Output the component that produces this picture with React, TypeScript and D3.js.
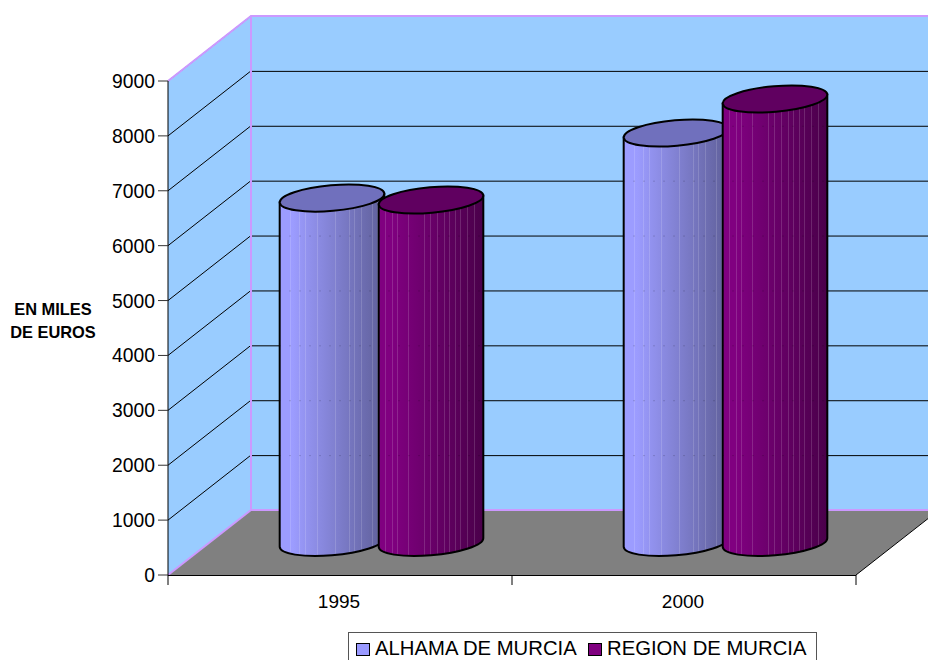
import React from 'react';
import * as d3 from 'd3';

const categories = ['1995', '2000'];
const seriesNames = ['ALHAMA DE MURCIA', 'REGION DE MURCIA'];
const alhamaValues = [6275, 7460];
const regionValues = [6240, 8080];
const yTicks = [0, 1000, 2000, 3000, 4000, 5000, 6000, 7000, 8000, 9000];
const alhamaStreaks = [0.1, 0.19, 0.24, 0.36, 0.53, 0.66, 0.71, 0.78, 0.88, 0.93];
const regionStreaks = [0.06, 0.13, 0.18, 0.28, 0.43, 0.49, 0.56, 0.62, 0.67, 0.73, 0.78, 0.84, 0.91];

const width = 928;
const height = 660;
const font = '"Liberation Sans", Arial, sans-serif';

// the 3d box: front plane plus an offset to the back wall
const front = { left: 168, right: 856, bottom: 575, top: 81 };
const depth = { x: 83, y: -65 };

const y = d3.scaleLinear().domain([0, 9000]).range([front.bottom, front.top]);
const x0 = d3.scaleBand().domain(categories).range([front.left, front.right]);
const x1 = d3.scaleBand().domain(seriesNames).range([0, 198]);

const colors = [
  { light: '#9c9cff', dark: '#5f5f99', top: '#7070bd', swatch: '#9999ff', streaks: alhamaStreaks },
  { light: '#800080', dark: '#4a004a', top: '#600060', swatch: '#800080', streaks: regionStreaks },
];

const rx = 52.5;
const ry = 12.8;
const tilt = -5;

// left/right tangent points of the tilted ellipse
const th = (tilt * Math.PI) / 180;
const tt = Math.atan((-ry * Math.sin(th)) / (rx * Math.cos(th)));
const tanX = rx * Math.cos(tt) * Math.cos(th) - ry * Math.sin(tt) * Math.sin(th);
const tanY = rx * Math.cos(tt) * Math.sin(th) + ry * Math.sin(tt) * Math.cos(th);

const Cylinder = ({ cat, si, value }: { cat: string; si: number; value: number }) => {
  const c = colors[si];
  const name = seriesNames[si];
  const cx =
    (x0(cat) as number) + x0.bandwidth() / 2 + depth.x / 2 - 99 +
    (x1(name) as number) + x1.bandwidth() / 2;
  const base = y(0) + depth.y / 2;
  const top = y(value) + depth.y / 2;
  const body =
    `M${cx - tanX},${top - tanY} L${cx - tanX},${base - tanY} ` +
    `A${rx},${ry} ${tilt} 0 0 ${cx + tanX},${base + tanY} ` +
    `L${cx + tanX},${top + tanY} Z`;
  const clipId = `clip-${cat}-${si}`;
  return (
    <g>
      <clipPath id={clipId}>
        <path d={body} />
      </clipPath>
      <path d={body} fill={`url(#grad-${si})`} />
      <g clipPath={`url(#${clipId})`}>
        {c.streaks.map((s) => (
          <line
            key={s}
            x1={Math.round(cx - rx + s * 2 * rx) + 0.5}
            x2={Math.round(cx - rx + s * 2 * rx) + 0.5}
            y1={top - 20}
            y2={base + 20}
            stroke="#fff"
            strokeOpacity={0.15}
            strokeWidth={1}
          />
        ))}
        {/* the wall gridlines show through as faint dots */}
        {yTicks.slice(1, -1).map((t) => (
          <line
            key={t}
            x1={cx - rx}
            x2={cx + rx}
            y1={y(t) + depth.y + 0.5}
            y2={y(t) + depth.y + 0.5}
            stroke="#000"
            strokeOpacity={0.3}
            strokeDasharray="1 9"
          />
        ))}
      </g>
      <path d={body} fill="none" stroke="#000" strokeWidth={2} />
      <ellipse
        cx={cx}
        cy={top}
        rx={rx}
        ry={ry}
        transform={`rotate(${tilt} ${cx} ${top})`}
        fill={c.top}
        stroke="#000"
        strokeWidth={2}
      />
    </g>
  );
};

export default function App() {
  const backL = front.left + depth.x;
  const backBottom = front.bottom + depth.y;
  const backTop = front.top + depth.y;
  const backR = front.right + depth.x;
  return (
    <svg
      width={width}
      height={height}
      style={{ position: 'absolute', left: 0, top: 0, display: 'block' }}
      fontFamily={font}
    >
      <defs>
        {colors.map((c, i) => (
          <linearGradient key={i} id={`grad-${i}`} x1="0" x2="1" y1="0" y2="0">
            <stop offset="0" stopColor={c.light} />
            <stop offset="0.12" stopColor={c.light} />
            <stop offset="1" stopColor={c.dark} />
          </linearGradient>
        ))}
      </defs>
      <rect width={width} height={height} fill="#fff" />

      {/* walls and floor */}
      <polygon
        points={`${front.left},${front.top} ${backL},${backTop} ${backL},${backBottom} ${front.left},${front.bottom}`}
        fill="#99ccff"
      />
      <rect x={backL} y={backTop} width={backR - backL} height={backBottom - backTop} fill="#99ccff" />
      <polygon
        points={`${front.left},${front.bottom} ${backL},${backBottom} ${backR},${backBottom} ${front.right},${front.bottom}`}
        fill="#808080"
      />

      {/* gridlines on both walls */}
      {yTicks.slice(1).map((t) => (
        <g key={t} stroke="#000" strokeWidth={1} fill="none">
          <line x1={front.left} y1={y(t)} x2={backL} y2={y(t) + depth.y} />
          {t < 9000 && <line x1={backL} y1={y(t) + depth.y + 0.5} x2={backR} y2={y(t) + depth.y + 0.5} />}
        </g>
      ))}

      {/* wall edges */}
      <g stroke="#cc99ff" strokeWidth={2} fill="none">
        <path d={`M${front.left},${front.top} L${backL},${backTop} L${backR},${backTop}`} />
        <line x1={backL} y1={backTop} x2={backL} y2={backBottom} />
        <line x1={backL} y1={backBottom} x2={backR} y2={backBottom} />
        <line x1={front.left} y1={front.bottom} x2={backL} y2={backBottom} />
      </g>
      <line x1={front.right} y1={front.bottom} x2={backR} y2={backBottom} stroke="#000" strokeWidth={1} />

      {/* cylinders */}
      {categories.map((cat, i) => (
        <g key={cat}>
          <Cylinder cat={cat} si={0} value={alhamaValues[i]} />
          <Cylinder cat={cat} si={1} value={regionValues[i]} />
        </g>
      ))}

      {/* y axis */}
      <line x1={front.left} x2={front.left} y1={front.top} y2={front.bottom} stroke="#000" />
      {yTicks.map((t) => (
        <g key={t}>
          <line x1={front.left - 10} x2={front.left} y1={y(t)} y2={y(t)} stroke="#333" strokeWidth={1} />
          <text x={155} y={y(t) + 7} textAnchor="end" fontSize={19.3} fill="#000">
            {t}
          </text>
        </g>
      ))}

      {/* x axis */}
      <line x1={front.left} x2={front.right} y1={front.bottom + 0.5} y2={front.bottom + 0.5} stroke="#000" />
      {[front.left, ...categories.map((c) => (x0(c) as number) + x0.bandwidth())].map((tx) => (
        <line key={tx} x1={tx} x2={tx} y1={front.bottom} y2={front.bottom + 10} stroke="#000" />
      ))}
      {categories.map((c) => (
        <text
          key={c}
          x={(x0(c) as number) + x0.bandwidth() / 2 - 1}
          y={608}
          textAnchor="middle"
          fontSize={19}
          fill="#000"
        >
          {c}
        </text>
      ))}

      {/* y title */}
      <text textAnchor="middle" fontSize={16.4} fontWeight="bold" fill="#000">
        <tspan x={53} y={315}>EN MILES</tspan>
        <tspan x={53} y={338}>DE EUROS</tspan>
      </text>

      {/* legend */}
      <rect x={348.5} y={632.5} width={468} height={40} fill="#fff" stroke="#555" />
      {seriesNames.map((s, i) => {
        const lx = i === 0 ? 356 : 588;
        return (
          <g key={s}>
            <rect x={lx + 0.5} y={643.5} width={13} height={12} fill={colors[i].swatch} stroke="#000" />
            <text x={lx + 19} y={655} fontSize={20.3} fill="#000">
              {s}
            </text>
          </g>
        );
      })}
    </svg>
  );
}
